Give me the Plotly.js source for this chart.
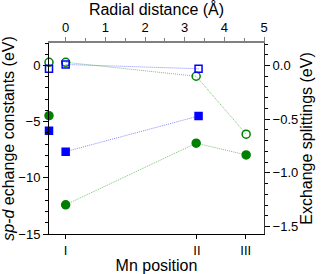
<!DOCTYPE html>
<html><head><meta charset="utf-8">
<script src="https://cdn.plot.ly/plotly-3.0.1.min.js"></script>
<style>html,body{margin:0;padding:0;background:#fff;}#c{width:321px;height:274px;}</style>
</head><body><div id="c"></div>
<script>
// Mn positions (radial distance, Å) and their labels
var positions = [0, 3.31, 4.54];
var positionLabels = ['I', 'II', 'III'];
var bulkX = -0.42;

// sp-d exchange constants (left axis, eV)
var blueFilledX = [0, 3.35];
var blueFilled = [-7.67, -4.5];
var blueFilledBulk = -5.8;
var greenFilledX = [0, 3.29, 4.55];
var greenFilled = [-12.4, -6.92, -7.96];
var greenFilledBulk = -4.47;

// Exchange splittings (right axis, eV)
var blueOpenX = [0, 3.35];
var blueOpen = [0.01, -0.03];
var blueOpenBulk = -0.03;
var greenOpenX = [0, 3.29, 4.55];
var greenOpen = [0.03, -0.10, -0.64];
var greenOpenBulk = 0.03;

var BLUE = '#0000ff', GREEN = '#008000';
var FAM = 'Liberation Sans, Arial, sans-serif';
var tickFont = {family: FAM, size: 13, color: '#000'};
var titleFont = {family: FAM, size: 16, color: '#000'};

function lineTrace(x, y, color, lineColor, sym, yax) {
  return {x: x, y: y, yaxis: yax, xaxis: 'x', type: 'scatter', mode: 'lines+markers',
    cliponaxis: false, showlegend: false,
    line: {color: lineColor, width: 1, dash: '1px,1px'},
    marker: {symbol: sym, size: sym.indexOf('square') >= 0 ? 7 : 8, color: color,
      line: {color: color, width: 1.5}}};
}
function bulkTrace(y, color, sym, yax) {
  return {x: [bulkX], y: [y], yaxis: yax, xaxis: 'x', type: 'scatter', mode: 'markers',
    cliponaxis: false, showlegend: false,
    marker: {symbol: sym, size: sym.indexOf('square') >= 0 ? 7 : 8, color: color,
      line: {color: color, width: 1.5}}};
}

var data = [
  lineTrace(greenFilledX, greenFilled, GREEN, 'rgba(60,170,60,0.7)', 'circle', 'y'),
  lineTrace(blueFilledX, blueFilled, BLUE, 'rgba(90,90,255,0.7)', 'square', 'y'),
  lineTrace(greenOpenX, greenOpen, GREEN, 'rgba(60,170,60,0.7)', 'circle-open', 'y2'),
  lineTrace(blueOpenX, blueOpen, BLUE, 'rgba(90,90,255,0.7)', 'square-open', 'y2'),
  bulkTrace(greenFilledBulk, GREEN, 'circle', 'y'),
  bulkTrace(blueFilledBulk, BLUE, 'square', 'y'),
  bulkTrace(greenOpenBulk, GREEN, 'circle-open', 'y2'),
  bulkTrace(blueOpenBulk, BLUE, 'square-open', 'y2'),
  // invisible trace to activate top axis
  {x: [0], y: [0], xaxis: 'x2', yaxis: 'y', type: 'scatter', mode: 'markers',
   marker: {opacity: 0}, hoverinfo: 'skip', showlegend: false}
];

var layout = {
  width: 321, height: 274,
  margin: {l: 49, r: 57, t: 43, b: 40},
  paper_bgcolor: '#fff', plot_bgcolor: '#fff',
  font: tickFont,
  showlegend: false,
  xaxis: {range: [bulkX, 5], tickvals: positions, ticktext: positionLabels,
    showgrid: false, zeroline: false, showline: true, linecolor: '#000', linewidth: 1,
    ticks: 'outside', ticklen: 4, tickcolor: '#000', tickfont: tickFont,
    title: {text: 'Mn position', font: titleFont, standoff: 0}},
  xaxis2: {overlaying: 'x', side: 'top', range: [bulkX, 5], dtick: 1, tick0: 0,
    showgrid: false, zeroline: false, showline: true, linecolor: '#808080', linewidth: 2,
    ticks: 'outside', ticklen: 4, tickcolor: '#808080', tickfont: tickFont,
    minor: {dtick: 0.5, tick0: 0, ticklen: 3, ticks: 'outside', tickcolor: '#808080', showgrid: false},
    title: {text: 'Radial distance (Å)', font: titleFont, standoff: 3}},
  yaxis: {range: [-15, 2], dtick: 5, tick0: 0,
    showgrid: false, zeroline: false, showline: true, linecolor: '#000', linewidth: 1,
    ticks: 'outside', ticklen: 5, tickcolor: '#000', tickfont: tickFont,
    minor: {dtick: 1, tick0: 0, ticklen: 3, ticks: 'outside', tickcolor: '#000', showgrid: false},
    title: {text: '<i>sp-d</i> echange constants (eV)', font: titleFont, standoff: 3}},
  yaxis2: {overlaying: 'y', side: 'right', range: [-1.57, 0.21], dtick: 0.5, tick0: 0, tickformat: '.1f',
    showgrid: false, zeroline: false, showline: true, linecolor: '#333', linewidth: 1,
    ticks: 'outside', ticklen: 5, tickcolor: '#000', tickfont: tickFont,
    minor: {dtick: 0.1, tick0: 0, ticklen: 3, ticks: 'outside', tickcolor: '#000', showgrid: false},
    title: {text: 'Exchange splittings (eV)', font: titleFont, standoff: 3}}
};

Plotly.newPlot('c', data, layout, {displayModeBar: false, staticPlot: true});
</script>
</body></html>
